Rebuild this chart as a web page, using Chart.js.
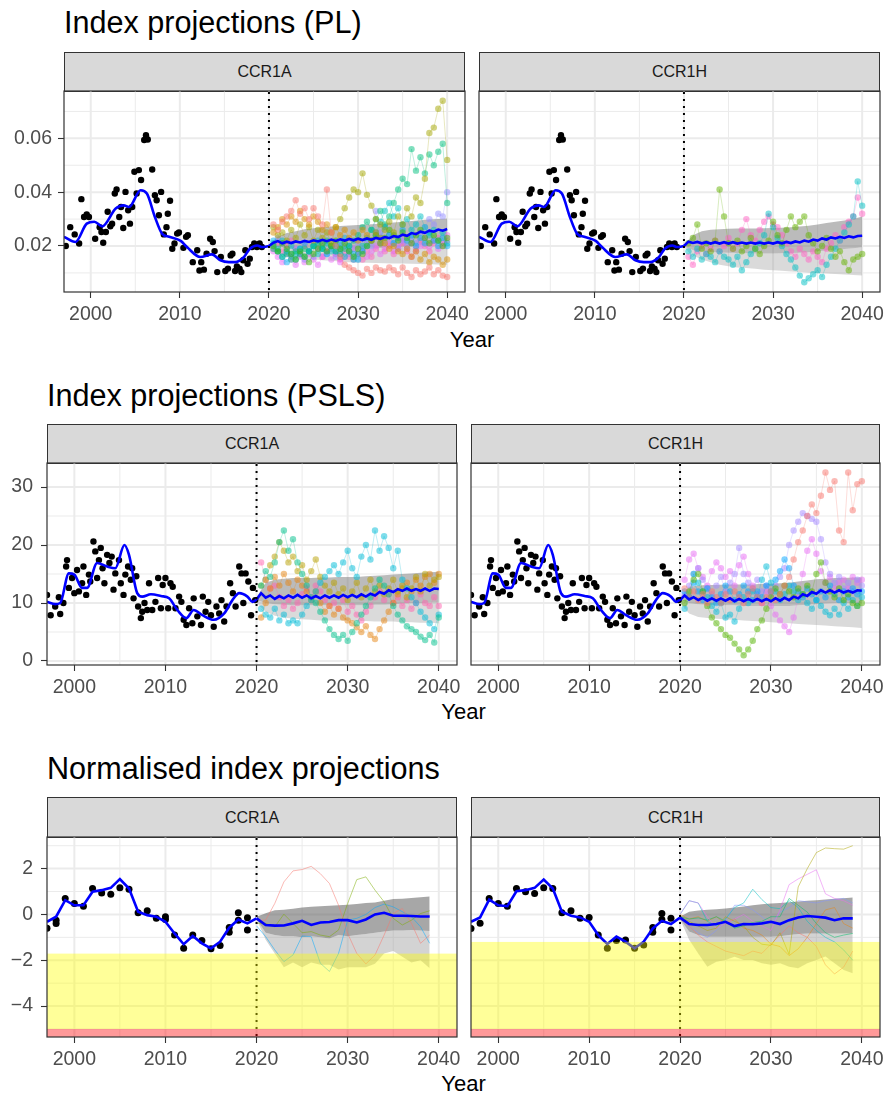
<!DOCTYPE html>
<html><head><meta charset="utf-8">
<script src="https://cdn.jsdelivr.net/npm/chart.js@4.4.1/dist/chart.umd.min.js"></script>
<style>
html,body{margin:0;padding:0;background:#fff;}
body{width:888px;height:1100px;position:relative;overflow:hidden;font-family:"Liberation Sans",Arial,Helvetica,sans-serif;}
.t{position:absolute;white-space:nowrap;color:#000;}
.strip{position:absolute;box-sizing:border-box;border:1px solid #333;background:#D9D9D9;display:flex;align-items:center;justify-content:center;font-size:16px;color:#1A1A1A;}
canvas{position:absolute;}
</style></head><body>
<script>
// ---------- shared axes ----------
const xTicks = [2000, 2010, 2020, 2030, 2040];
const xMinor = [2005, 2015, 2025, 2035];
const projStart = 2020;
const plYTicks = [0.02, 0.04, 0.06];
const plYMinor = [0.01, 0.03, 0.05, 0.07];
const pslsYTicks = [0, 10, 20, 30];
const pslsYMinor = [5, 15, 25];
const normYTicks = [-4, -2, 0, 2];
const normYMinor = [-5, -3, -1, 1, 3];
const normLimitA = -1.71;
const normLimitH = -1.2;
const normLimitLow = -5;

// ---------- projection time grids ----------
const projHalfYears = [2020.5,2021,2021.5,2022,2022.5,2023,2023.5,2024,2024.5,2025,2025.5,2026,2026.5,2027,2027.5,2028,2028.5,2029,2029.5,2030,2030.5,2031,2031.5,2032,2032.5,2033,2033.5,2034,2034.5,2035,2035.5,2036,2036.5,2037,2037.5,2038,2038.5,2039,2039.5,2040];
const medYears = [2020,2020.5,2021,2021.5,2022,2022.5,2023,2023.5,2024,2024.5,2025,2025.5,2026,2026.5,2027,2027.5,2028,2028.5,2029,2029.5,2030,2030.5,2031,2031.5,2032,2032.5,2033,2033.5,2034,2034.5,2035,2035.5,2036,2036.5,2037,2037.5,2038,2038.5,2039,2039.5,2040];
const ribbonYears = [2020,2021,2022,2023,2024,2025,2026,2027,2028,2029,2030,2031,2032,2033,2034,2035,2036,2037,2038,2039,2040];
const normYears = [2020,2021,2022,2023,2024,2025,2026,2027,2028,2029,2030,2031,2032,2033,2034,2035,2036,2037,2038,2039];
const normHistYears = [1997,1998,1999,2000,2001,2002,2003,2004,2005,2006,2007,2008,2009,2010,2011,2012,2013,2014,2015,2016,2017,2018,2019,2020];

// ---------- PL observed & fit ----------
const plObsYear = [1997.2,1997.7,1998.2,1998.7,1998.95,1999.25,1999.55,1999.8,2000.5,2001.0,2001.2,2001.4,2001.7,2001.9,2002.2,2002.4,2002.7,2002.9,2003.2,2003.4,2003.65,2003.9,2004.2,2004.4,2004.65,2004.9,2005.15,2005.4,2005.65,2006.0,2006.2,2006.4,2006.9,2007.2,2007.4,2007.65,2007.9,2008.2,2008.5,2008.65,2008.9,2009.15,2009.4,2009.7,2009.9,2010.4,2010.7,2010.9,2011.45,2011.95,2012.2,2012.4,2012.7,2013.0,2013.4,2013.7,2013.9,2014.2,2014.6,2015.1,2015.4,2015.7,2015.9,2016.2,2016.4,2016.7,2016.9,2017.1,2017.35,2017.6,2017.85,2018.1,2018.35,2018.65,2018.95,2019.2];
const plObsVal = [0.020,0.027,0.0243,0.0209,0.0374,0.0308,0.0317,0.0308,0.0227,0.027,0.0252,0.0212,0.0252,0.0327,0.0273,0.0283,0.0395,0.041,0.0308,0.0345,0.0267,0.0401,0.0333,0.0283,0.0345,0.0476,0.0395,0.0482,0.0445,0.0594,0.0612,0.0596,0.0484,0.0389,0.037,0.0314,0.0401,0.0243,0.027,0.032,0.0368,0.019,0.0209,0.0246,0.025,0.0193,0.0234,0.024,0.014,0.0184,0.0109,0.014,0.0112,0.0171,0.0227,0.0215,0.0181,0.0103,0.0159,0.0107,0.0116,0.0165,0.0171,0.0107,0.0124,0.0116,0.0103,0.0147,0.0184,0.0134,0.0153,0.0196,0.0209,0.0196,0.0209,0.0196];
const plFitYear = [1997.0,1998.3,1999.55,2000.4,2001.3,2002.8,2003.7,2004.3,2005.6,2006.3,2007.2,2008.0,2008.8,2010.1,2010.8,2012.3,2013.6,2014.55,2015.5,2016.2,2017.2,2017.85,2018.7,2019.2,2020.0];
const plFitVal = [0.0234,0.0215,0.0283,0.029,0.0273,0.0339,0.0351,0.0345,0.0407,0.0395,0.0308,0.0246,0.0234,0.0219,0.0196,0.0159,0.0169,0.0147,0.014,0.014,0.0159,0.019,0.0202,0.0196,0.02];

// ---------- PL CCR1A projections ----------
const plAMed = [0.0200,0.0212,0.0218,0.0210,0.0216,0.0211,0.0217,0.0213,0.0219,0.0215,0.0221,0.0217,0.0223,0.0218,0.0224,0.0219,0.0225,0.0220,0.0226,0.0221,0.0227,0.0222,0.0228,0.0223,0.0230,0.0226,0.0233,0.0229,0.0237,0.0233,0.0242,0.0238,0.0248,0.0244,0.0253,0.0249,0.0257,0.0253,0.0261,0.0257,0.0263];
const plALo = [0.0195,0.0175,0.0162,0.0155,0.0152,0.0150,0.0147,0.0145,0.0142,0.0140,0.0138,0.0138,0.0137,0.0136,0.0135,0.0135,0.0134,0.0133,0.0132,0.0131,0.0130];
const plAInLo = [0.0198,0.0195,0.0192,0.0190,0.0190,0.0190,0.0190,0.0190,0.0190,0.0190,0.0190,0.0191,0.0192,0.0193,0.0195,0.0197,0.0200,0.0203,0.0206,0.0208,0.0210];
const plAHi = [0.0205,0.0235,0.0248,0.0255,0.0262,0.0266,0.0270,0.0272,0.0274,0.0276,0.0278,0.0280,0.0282,0.0284,0.0287,0.0290,0.0293,0.0296,0.0298,0.0300,0.0302];
const plASalmon = [0.028,0.026,0.029,0.031,0.033,0.037,0.032,0.034,0.03,0.034,0.031,0.028,0.041,0.025,0.02,0.016,0.013,0.012,0.011,0.010,0.009,0.0115,0.010,0.012,0.011,0.0105,0.012,0.011,0.0095,0.012,0.010,0.0085,0.011,0.0095,0.0105,0.012,0.0095,0.011,0.009,0.0085];
const plAGold = [0.025,0.027,0.03,0.028,0.031,0.029,0.033,0.03,0.028,0.031,0.029,0.026,0.028,0.025,0.027,0.024,0.026,0.023,0.025,0.022,0.026,0.024,0.022,0.025,0.023,0.021,0.019,0.02,0.018,0.017,0.019,0.016,0.018,0.015,0.017,0.014,0.016,0.015,0.013,0.015];
const plAOlive = [0.027,0.024,0.025,0.022,0.026,0.023,0.028,0.024,0.027,0.022,0.026,0.023,0.025,0.021,0.027,0.030,0.034,0.038,0.041,0.040,0.047,0.039,0.035,0.030,0.028,0.026,0.029,0.025,0.031,0.028,0.034,0.031,0.038,0.036,0.045,0.062,0.064,0.071,0.074,0.052];
const plAGreen = [0.02,0.018,0.021,0.019,0.017,0.015,0.018,0.016,0.014,0.017,0.019,0.021,0.018,0.02,0.022,0.019,0.021,0.018,0.016,0.019,0.017,0.02,0.022,0.024,0.021,0.023,0.026,0.024,0.022,0.025,0.023,0.021,0.024,0.026,0.023,0.021,0.024,0.022,0.02,0.023];
const plAMint = [0.019,0.018,0.016,0.017,0.015,0.018,0.017,0.019,0.018,0.02,0.021,0.019,0.022,0.02,0.018,0.017,0.019,0.02,0.022,0.024,0.027,0.029,0.026,0.03,0.033,0.028,0.031,0.036,0.041,0.045,0.043,0.056,0.048,0.053,0.047,0.054,0.050,0.055,0.058,0.036];
const plATeal = [0.021,0.019,0.022,0.018,0.02,0.017,0.019,0.016,0.018,0.02,0.017,0.019,0.021,0.018,0.02,0.019,0.016,0.018,0.015,0.017,0.02,0.023,0.026,0.024,0.029,0.033,0.036,0.031,0.034,0.028,0.03,0.026,0.028,0.031,0.027,0.024,0.026,0.022,0.025,0.021];
const plACyan = [0.022,0.018,0.016,0.014,0.017,0.015,0.019,0.021,0.018,0.02,0.022,0.019,0.017,0.02,0.018,0.021,0.023,0.02,0.017,0.015,0.018,0.02,0.022,0.025,0.023,0.027,0.024,0.021,0.023,0.026,0.022,0.024,0.02,0.023,0.021,0.025,0.022,0.02,0.023,0.02];
const plAPurple = [0.02,0.023,0.021,0.018,0.016,0.019,0.017,0.015,0.018,0.016,0.019,0.021,0.017,0.019,0.016,0.018,0.02,0.017,0.019,0.021,0.018,0.022,0.02,0.033,0.025,0.022,0.024,0.021,0.019,0.022,0.02,0.023,0.021,0.025,0.027,0.03,0.028,0.032,0.031,0.04];
const plAMagenta = [0.018,0.016,0.014,0.017,0.015,0.013,0.016,0.014,0.017,0.015,0.013,0.016,0.018,0.015,0.017,0.014,0.016,0.018,0.015,0.017,0.019,0.016,0.018,0.02,0.017,0.019,0.021,0.018,0.02,0.022,0.019,0.021,0.018,0.02,0.023,0.02,0.022,0.019,0.021,0.024];
const plAPink = [0.019,0.021,0.018,0.02,0.022,0.019,0.017,0.02,0.018,0.021,0.019,0.016,0.018,0.02,0.017,0.015,0.018,0.016,0.019,0.017,0.015,0.018,0.016,0.019,0.021,0.018,0.02,0.017,0.019,0.021,0.018,0.016,0.019,0.022,0.02,0.018,0.021,0.023,0.02,0.022];

// ---------- PL CCR1H projections ----------
const plHMed = [0.0200,0.0216,0.0211,0.0215,0.0210,0.0214,0.0209,0.0214,0.0209,0.0214,0.0209,0.0214,0.0209,0.0213,0.0209,0.0213,0.0209,0.0213,0.0209,0.0213,0.0209,0.0214,0.0210,0.0215,0.0211,0.0217,0.0213,0.0220,0.0216,0.0224,0.0220,0.0228,0.0224,0.0232,0.0228,0.0234,0.0230,0.0236,0.0232,0.0237,0.0238];
const plHLo = [0.0195,0.0165,0.015,0.014,0.013,0.0125,0.012,0.0118,0.0115,0.0112,0.011,0.0108,0.0105,0.0103,0.0101,0.01,0.0098,0.0096,0.0094,0.0092,0.009];
const plHInLo = [0.0198,0.0185,0.018,0.0178,0.0176,0.0175,0.0174,0.0173,0.0172,0.0172,0.0172,0.0173,0.0174,0.0175,0.0177,0.018,0.0183,0.0186,0.0189,0.0192,0.0195];
const plHHi = [0.0205,0.024,0.0255,0.026,0.0262,0.0264,0.0265,0.0265,0.0265,0.0266,0.0267,0.0268,0.027,0.0272,0.0275,0.028,0.0285,0.029,0.0295,0.03,0.031];
const plHGreen = [0.021,0.023,0.028,0.019,0.021,0.018,0.022,0.041,0.031,0.021,0.019,0.022,0.018,0.02,0.023,0.019,0.017,0.02,0.022,0.029,0.024,0.021,0.026,0.031,0.027,0.029,0.031,0.024,0.021,0.018,0.02,0.023,0.019,0.016,0.018,0.014,0.011,0.015,0.016,0.017];
const plHCyan = [0.018,0.016,0.019,0.015,0.017,0.016,0.014,0.018,0.016,0.015,0.013,0.016,0.011,0.014,0.017,0.019,0.021,0.024,0.032,0.027,0.023,0.02,0.017,0.015,0.012,0.009,0.0065,0.008,0.0095,0.011,0.0085,0.013,0.016,0.019,0.022,0.025,0.028,0.031,0.044,0.035];
const plHPink = [0.016,0.013,0.018,0.02,0.017,0.019,0.022,0.018,0.02,0.023,0.019,0.021,0.026,0.03,0.024,0.022,0.026,0.029,0.031,0.028,0.027,0.024,0.021,0.018,0.016,0.019,0.017,0.015,0.018,0.016,0.014,0.019,0.021,0.024,0.022,0.027,0.029,0.031,0.038,0.032];

// ---------- PSLS observed & fit ----------
const pslsObsYear = [1997.0,1997.4,1997.9,1998.3,1998.45,1998.8,1999.1,1999.2,1999.4,1999.75,2000.0,2000.3,2000.5,2000.85,2001.0,2001.3,2001.6,2001.75,2002.1,2002.3,2002.5,2002.7,2002.9,2003.1,2003.3,2003.6,2003.85,2004.1,2004.3,2004.5,2004.9,2005.1,2005.4,2005.6,2005.9,2006.2,2006.35,2006.5,2006.8,2007.0,2007.3,2007.45,2007.7,2008.0,2008.2,2008.55,2008.9,2009.2,2009.5,2009.7,2010.0,2010.3,2010.55,2010.8,2011.1,2011.5,2011.75,2012.0,2012.3,2012.6,2012.95,2013.1,2013.5,2013.9,2014.1,2014.4,2014.7,2015.0,2015.3,2015.6,2015.9,2016.15,2016.45,2016.7,2017.1,2017.4,2017.7,2018.1,2018.35,2018.55,2018.8,2019.1,2019.4,2019.6,2019.85];
const pslsObsVal = [11.4,7.9,9.4,11.0,8.1,10.0,16.3,17.4,12.6,14.3,11.7,15.7,12.0,13.4,16.3,11.4,14.9,13.7,20.6,18.9,14.3,17.4,19.5,16.0,13.4,18.3,16.9,18.0,12.3,15.1,17.4,13.4,11.4,14.9,16.3,14.0,16.0,10.8,14.6,9.4,7.4,8.5,10.0,8.8,13.4,8.8,10.2,14.3,9.1,13.1,14.3,9.1,13.4,12.8,9.1,11.1,10.2,7.1,6.2,9.1,6.5,10.8,7.7,6.2,11.1,8.5,10.2,7.9,5.9,9.4,8.2,10.5,6.8,9.4,13.4,11.7,9.4,16.3,15.1,10.0,15.1,13.7,7.9,12.6,10.5];
const pslsFitYear = [1997.0,1997.9,1998.45,1999.4,2000.0,2000.85,2001.4,2002.5,2003.6,2004.5,2005.5,2006.0,2006.9,2007.45,2008.4,2009.5,2010.4,2011.3,2012.3,2013.1,2014.05,2015.3,2016.45,2017.35,2018.1,2019.0,2019.55,2020.0];
const pslsFitVal = [10.2,9.8,10.0,15.1,14.9,12.6,12.6,16.9,16.3,16.0,20.0,18.3,11.7,11.1,11.5,11.2,10.8,8.8,7.4,8.8,7.9,7.1,8.2,10.5,11.7,11.1,10.2,10.6];

// ---------- PSLS CCR1A projections ----------
const pslsAMed = [10.6,11.7,10.9,11.3,10.7,11.2,10.8,11.3,10.9,11.4,10.9,11.3,10.8,11.2,10.8,11.3,10.9,11.3,10.9,11.4,11.0,11.4,11.0,11.5,11.1,11.6,11.3,11.9,11.6,12.2,11.9,12.4,12.1,12.5,12.1,12.4,12.1,12.5,12.1,12.5,12.4];
const pslsALo = [10.0,8.5,7.8,7.5,7.3,7.2,7.1,7.0,7.0,7.0,7.0,6.9,6.9,6.8,6.8,6.8,6.7,6.7,6.6,6.6,6.5];
const pslsAInLo = [10.5,10.0,9.8,9.7,9.6,9.6,9.6,9.6,9.6,9.6,9.6,9.6,9.6,9.7,9.7,9.8,9.9,10.0,10.0,10.1,10.1];
const pslsAHi = [11.0,13.5,14.0,14.2,14.3,14.3,14.3,14.4,14.4,14.5,14.5,14.5,14.6,14.7,14.8,14.9,15.0,15.1,15.2,15.3,15.4];
const pslsAMint = [13,15.5,14.5,17,20.5,22.5,19,21,17,15,13,11,10,8.5,7,5.5,4.5,3.8,4.5,3.5,5,6.5,8,9.5,11,12.5,14,13,11.5,9.5,8,7,6,5.5,5,4.2,3.6,4.5,3.2,7.5];
const pslsACyan = [9,8,7.5,9,7,8,6.5,7,6.5,8,9.5,10.5,12,13.5,14.5,15.5,16.5,15,17,19,16,14.5,18,20,17.5,22.5,19,21.5,19.5,16,19,14,12.5,11,10,8.5,7.5,6.5,5.5,8];
const pslsAOlive = [13,14,16.5,18,20.5,19,17,18,15.5,16.5,14,15.5,17.5,14.5,13,12,13.5,11.5,12.5,10.5,12,13.5,11,12.5,14,12,13,11.5,12.5,14,12,13,11,12.5,14.5,12,15,13,14,14.5];
const pslsAOrange = [7.5,10,12.5,14.5,13,15,13.5,12,14,13,12,10.5,12,10,8.5,9.5,8,9,7.5,7,6.5,5.8,5,6,4.5,3.8,5.5,7,8.5,10,11.5,12.5,13.5,12,14,13,14.5,15,13.5,15];
const pslsAPink = [17,14,12.5,13,11,9.5,10.5,9,10,11.5,12.5,11,13,12,10.5,9.5,10,9,10.5,8.5,9.5,8,7,8.5,9.5,11,12,10.5,11.5,10,11,9.5,10.5,9,10,11.5,10,9.5,11,9.5];

// ---------- PSLS CCR1H projections ----------
const pslsHMed = [10.5,11.3,10.6,11.0,10.5,10.9,10.4,10.8,10.4,10.8,10.4,10.8,10.3,10.7,10.3,10.7,10.3,10.7,10.3,10.7,10.3,10.8,10.4,10.9,10.5,11.1,10.8,11.5,11.2,11.9,11.6,12.2,11.8,12.2,11.8,12.2,11.8,12.1,11.8,12.2,12.1];
const pslsHLo = [10.0,8.2,7.6,7.4,7.3,7.2,7.1,7.0,6.9,6.8,6.7,6.6,6.5,6.4,6.3,6.2,6.1,6.0,5.9,5.8,5.7];
const pslsHInLo = [10.5,10.0,9.8,9.7,9.6,9.6,9.6,9.5,9.5,9.5,9.5,9.5,9.5,9.6,9.7,9.8,9.9,10.0,10.0,10.0,10.0];
const pslsHHi = [11.0,12.8,13.0,13.1,13.1,13.2,13.2,13.2,13.2,13.3,13.3,13.4,13.5,13.7,13.9,14.1,14.2,14.3,14.3,14.4,14.4];
const pslsHGreen = [10,12,14,15,12,9.5,7.5,6.5,5.5,4.5,4,3,2,1.0,2,3.5,5.5,7,9,11,12.5,11.5,13,12,11,12.5,11.5,13,12,15,17,13.5,12,11,12.5,10.5,11.5,10,9.5,10];
const pslsHSalmon = [12.5,11,12,10.5,11.5,10,12,11,10,11.5,10.5,12,11,10,11.5,12.5,11,10,11,12,10.5,11.5,13,14.5,17.5,20.5,22.5,25,27,25.5,28.5,32.5,29.5,31,22.5,20.5,32.5,26,30.5,31];
const pslsHPurple = [11.5,13,15,16,14,12.5,11.5,13,14.5,12,13.5,15,19.5,15,13.5,12.5,14,12,13,11.5,13,14.5,16,20,22.5,24,25.5,25,24.5,24,21,17,15,13.5,14.5,12.5,13.5,12,14,13];
const pslsHMagenta = [14,17.5,18.5,16,14.5,13,15.5,17,16,14.5,15.5,13,16.5,18,15,13,11.5,10,12,9.5,8,7,6,5,7.5,11,15,19,21,18.5,15.5,13.5,14.5,12.5,13.5,14,12.5,14.5,13.5,14];
const pslsHCyan = [9,11,15,13.5,12,11,9.5,8.5,10,7.5,8,6.8,9,11,10,12,11,14,16.3,13.5,12,10.5,11.5,13,12,10.5,11.5,10,9,10.5,9.5,8.5,7.9,9,8,10,9,10.5,9.5,11];
const pslsHBlue = [12,11,13.5,12,10.5,12.5,11,10,11.5,13,12,10.5,11.5,13,12,10.5,12,11,13,12,14,15.5,17.5,16,13,12,11,12.5,11.5,10.5,12,11,13,11.5,10.5,12,11,12.5,11.5,12];

// ---------- Normalised CCR1A ----------
const normAObsYear = [1997,1998,1998,1999,2000,2001,2002,2003,2004,2005,2006,2007,2008,2009,2010,2010,2011,2012,2013,2014,2015,2016,2017,2017,2018,2018,2019,2019];
const normAObsVal = [-0.6,-0.4,-0.25,0.7,0.48,0.36,1.13,0.94,0.88,1.16,1.1,0.07,0.16,-0.17,-0.1,-0.22,-0.9,-1.48,-0.9,-1.14,-1.5,-1.36,-0.57,-0.78,0.07,-0.25,-0.14,-0.68];
const normAFit = [-0.32,-0.1,0.62,0.4,0.4,0.99,1.06,1.16,1.54,1.13,0.12,-0.03,-0.1,-0.32,-0.83,-1.3,-0.94,-1.26,-1.48,-1.19,-0.58,-0.22,-0.39,-0.17];
const normAMed = [-0.17,-0.46,-0.49,-0.48,-0.39,-0.28,-0.46,-0.35,-0.33,-0.25,-0.25,-0.35,-0.22,0.0,0.07,-0.06,-0.06,-0.07,-0.09,-0.09];
const normALo = [-0.2,-1.1,-1.7,-2.3,-2.1,-2.3,-2.1,-2.2,-2.2,-2.4,-2.3,-2.3,-2.3,-2.15,-1.7,-1.6,-1.85,-2.1,-2.0,-2.35];
const normAInLo = [-0.2,-0.8,-0.9,-0.95,-0.95,-1.0,-0.95,-1.0,-1.05,-0.9,-0.95,-0.9,-0.85,-0.8,-0.75,-0.7,-0.7,-0.68,-0.7,-0.72];
const normAHi = [-0.1,0.05,0.18,0.2,0.25,0.3,0.33,0.36,0.38,0.4,0.42,0.45,0.5,0.52,0.6,0.67,0.68,0.72,0.75,0.78];
const normASalmon = [-0.25,-0.25,0.48,1.42,1.9,1.96,2.1,1.78,1.35,0.4,-0.83,-1.7,-2.16,-1.77,-0.9,0.04,0.26,-0.39,-1.26,-0.9];
const normAGreen = [-0.39,-0.39,-0.54,0.01,-0.39,-0.8,-0.75,-0.9,-0.97,-0.68,0.48,1.52,1.64,1.06,0.55,-0.17,-0.46,-0.25,0.04,0.16];
const normABlue = [-0.5,-0.97,-1.55,-2.06,-1.77,-0.94,-0.97,-2.13,-2.49,-1.7,-0.25,-0.17,0.0,0.3,0.45,0.33,0.12,-0.1,-0.54,-1.26];

// ---------- Normalised CCR1H ----------
const normHObsYear = [1997,1998,1999,2000,2001,2002,2003,2004,2005,2006,2007,2008,2009,2010,2011,2012,2013,2014,2015,2016,2017,2017,2018,2018,2019,2019];
const normHObsVal = [-0.61,-0.39,0.7,0.48,0.36,1.13,0.99,0.91,1.16,1.13,0.07,0.16,-0.17,-0.13,-0.9,-1.48,-1.14,-1.12,-1.48,-1.33,-0.57,-0.78,0.04,-0.22,-0.17,-0.68];
const normHFit = [-0.32,-0.13,0.65,0.4,0.36,1.01,1.06,1.16,1.52,1.13,0.12,-0.06,-0.13,-0.32,-0.9,-1.29,-0.97,-1.19,-1.48,-1.19,-0.61,-0.28,-0.42,-0.14];
const normHMed = [-0.14,-0.42,-0.46,-0.46,-0.42,-0.32,-0.51,-0.42,-0.43,-0.39,-0.32,-0.42,-0.25,-0.13,-0.07,-0.1,-0.14,-0.25,-0.17,-0.17];
const normHLo = [-0.2,-1.1,-1.7,-2.28,-2.06,-1.99,-1.85,-1.99,-1.99,-2.13,-2.2,-2.13,-2.28,-2.35,-2.13,-1.99,-1.84,-2.13,-2.42,-2.57];
const normHInLo = [-0.2,-0.75,-0.9,-0.97,-0.97,-0.97,-0.97,-0.97,-0.97,-0.97,-0.97,-0.95,-0.9,-0.85,-0.83,-0.83,-0.83,-0.83,-0.83,-0.83];
const normHHi = [-0.1,0.12,0.17,0.2,0.23,0.26,0.3,0.35,0.4,0.44,0.48,0.5,0.53,0.56,0.6,0.62,0.65,0.68,0.71,0.74];
const normHOlive = [-0.1,-0.3,-0.5,-0.7,-0.6,-0.1,-0.3,-0.5,-1.0,-1.3,-1.35,-0.8,-1.75,1.2,2.0,2.7,2.9,2.87,2.85,3.0];
const normHMagenta = [0.0,0.6,0.5,-0.1,-0.6,-0.4,-0.2,0.0,-0.3,-0.5,-0.7,0.2,1.3,1.55,1.75,1.95,0.9,0.7,0.6,0.4];
const normHCyan = [0.0,0.6,0.5,-0.3,-0.5,-0.2,0.3,0.5,1.1,0.65,0.3,0.25,0.6,0.3,-0.3,-0.7,-1.0,-1.2,-1.55,-2.0];
const normHTeal = [-0.1,-0.2,-0.15,-0.25,-0.1,-0.3,-0.6,-0.5,-0.35,-0.3,-0.1,-0.1,0.7,0.4,0.1,-0.4,-0.8,-1.0,-0.9,-0.83];
const normHOrange = [0.0,-0.2,-0.1,-0.3,-0.1,-0.4,-0.2,-0.6,-0.7,-0.9,-1.3,-1.4,-1.8,-1.5,-1.0,-0.4,0.2,0.3,-0.4,-0.6];
const normHSalmon = [-0.2,-0.5,-0.9,-1.2,-1.4,-1.6,-1.7,-1.8,-1.6,-1.7,-1.3,-0.9,-0.5,-0.8,-1.0,-1.4,-2.2,-2.6,-2.3,-1.6];
const normHPurple = [-0.2,-0.5,-0.8,-1.0,-0.7,-0.3,0.4,0.4,0.2,-0.1,-0.4,0.1,0.3,0.6,0.55,0.5,0.6,0.65,0.7,0.5];

// ---------- helpers ----------
const FONT = '"Liberation Sans", Arial, Helvetica, sans-serif';
Chart.defaults.font.family = FONT;

function rgba(hex, a) {
  const n = parseInt(hex.slice(1), 16);
  return 'rgba(' + ((n >> 16) & 255) + ',' + ((n >> 8) & 255) + ',' + (n & 255) + ',' + a + ')';
}
function pts(xs, ys) { return xs.map((x, i) => ({ x: x, y: ys[i] })); }

function addText(txt, left, top, size, extra) {
  const d = document.createElement('div');
  d.className = 't';
  d.textContent = txt;
  d.style.left = left + 'px';
  d.style.top = top + 'px';
  d.style.fontSize = size + 'px';
  d.style.lineHeight = size + 'px';
  if (extra) Object.assign(d.style, extra);
  document.body.appendChild(d);
}

function ribbonSets(xs, lo, inLo, hi, light, dark) {
  const clear = 'rgba(0,0,0,0)';
  return [
    { data: pts(xs, lo), borderColor: clear, borderWidth: 1, pointRadius: 0, fill: false, order: 100 },
    { data: pts(xs, inLo), borderColor: clear, borderWidth: 1, pointRadius: 0, fill: '-1', backgroundColor: light, order: 99 },
    { data: pts(xs, hi), borderColor: clear, borderWidth: 1, pointRadius: 0, fill: '-1', backgroundColor: dark, order: 98 }
  ];
}
function seriesSets(xs, list, ptAlpha, lineAlpha, radius) {
  return list.map(([col, ys]) => ({
    data: pts(xs, ys), borderColor: rgba(col, lineAlpha), borderWidth: 1,
    pointRadius: radius, pointBackgroundColor: rgba(col, ptAlpha), pointBorderWidth: 0,
    fill: false, tension: 0, order: 50
  }));
}
function obsSet(xs, ys, r) {
  return { data: pts(xs, ys), showLine: false, pointRadius: r, pointBackgroundColor: '#000', pointBorderWidth: 0, order: 20 };
}
function blueSet(xs, ys, smooth) {
  const d = { data: pts(xs, ys), borderColor: '#0000FF', borderWidth: 2.6, pointRadius: 0, fill: false, order: 10, tension: 0 };
  if (smooth) { d.tension = 0.4; d.cubicInterpolationMode = 'monotone'; }
  return d;
}

function decoPlugin(p) {
  return {
    id: 'deco',
    beforeDatasetsDraw(chart) {
      const { ctx, chartArea: a, scales } = chart;
      const x = scales.x, y = scales.y;
      ctx.save();
      ctx.strokeStyle = '#EBEBEB';
      const vl = (v, w) => { const px = x.getPixelForValue(v); ctx.lineWidth = w; ctx.beginPath(); ctx.moveTo(px, a.top); ctx.lineTo(px, a.bottom); ctx.stroke(); };
      const hl = (v, w) => { const py = y.getPixelForValue(v); ctx.lineWidth = w; ctx.beginPath(); ctx.moveTo(a.left, py); ctx.lineTo(a.right, py); ctx.stroke(); };
      xMinor.forEach(v => vl(v, 1));
      p.yMinor.forEach(v => hl(v, 1));
      xTicks.forEach(v => vl(v, 2));
      p.yTicks.forEach(v => hl(v, 2));
      ctx.restore();
    },
    afterDatasetsDraw(chart) {
      const { ctx, chartArea: a, scales } = chart;
      const x = scales.x, y = scales.y;
      ctx.save();
      const px = x.getPixelForValue(projStart);
      ctx.setLineDash([2, 5]);
      ctx.lineWidth = 2;
      ctx.strokeStyle = '#000';
      ctx.beginPath(); ctx.moveTo(px, a.top + 1); ctx.lineTo(px, a.bottom); ctx.stroke();
      ctx.setLineDash([]);
      if (p.bandTop !== undefined) {
        const yt = y.getPixelForValue(p.bandTop), y5 = y.getPixelForValue(normLimitLow);
        ctx.fillStyle = 'rgba(255,255,0,0.4)';
        ctx.fillRect(a.left, yt, a.right - a.left, y5 - yt);
        ctx.fillStyle = 'rgba(255,0,0,0.4)';
        ctx.fillRect(a.left, y5, a.right - a.left, a.bottom - y5);
      }
      ctx.strokeStyle = '#333333';
      ctx.lineWidth = 1.2;
      ctx.strokeRect(a.left, a.top, a.right - a.left, a.bottom - a.top);
      ctx.restore();
    }
  };
}

function zeroPad(s) { s.paddingTop = 0; s.paddingBottom = 0; s.paddingLeft = 0; s.paddingRight = 0; }

function makePanel(p) {
  const strip = document.createElement('div');
  strip.className = 'strip';
  strip.textContent = p.label;
  strip.style.left = p.left + 'px';
  strip.style.top = p.stripTop + 'px';
  strip.style.width = (p.right - p.left) + 'px';
  strip.style.height = (p.top - p.stripTop + 1) + 'px';
  document.body.appendChild(strip);

  const padT = 2, padR = 12, xH = 40;
  const yW = p.yAxis ? p.left : 0;
  const canvasLeft = p.yAxis ? 0 : p.left - 2;
  const padL = p.yAxis ? 0 : 2;
  const cw = p.right + padR - canvasLeft;
  const ch = padT + (p.bottom - p.top) + xH;
  const cv = document.createElement('canvas');
  cv.width = cw; cv.height = ch;
  cv.style.left = canvasLeft + 'px';
  cv.style.top = (p.top - padT) + 'px';
  cv.style.width = cw + 'px';
  cv.style.height = ch + 'px';
  document.body.appendChild(cv);

  const tickFont = { family: FONT, size: 19.5 };
  new Chart(cv.getContext('2d'), {
    type: 'line',
    data: { datasets: p.datasets },
    options: {
      responsive: false, animation: false, devicePixelRatio: 1, events: [],
      layout: { autoPadding: false, padding: { top: padT, right: padR, left: padL, bottom: 0 } },
      plugins: { legend: { display: false }, tooltip: { enabled: false }, colors: { enabled: false } },
      scales: {
        x: {
          type: 'linear', min: 1997, max: 2042,
          afterBuildTicks: s => { s.ticks = xTicks.map(v => ({ value: v })); },
          afterFit: s => { s.height = xH; zeroPad(s); },
          ticks: { font: tickFont, color: '#4D4D4D', padding: 5, maxRotation: 0, autoSkip: false, callback: v => String(v) },
          grid: { display: true, drawOnChartArea: false, drawTicks: true, tickLength: 6, tickColor: '#333333', tickWidth: 1.1 },
          border: { display: false }
        },
        y: {
          type: 'linear', min: p.yMin, max: p.yMax, display: p.yAxis,
          afterBuildTicks: s => { s.ticks = p.yTicks.map(v => ({ value: v })); },
          afterFit: s => { s.width = yW; zeroPad(s); },
          ticks: { font: tickFont, color: '#4D4D4D', padding: p.yPad, autoSkip: false, callback: v => p.yFmt(v) },
          grid: { display: true, drawOnChartArea: false, drawTicks: true, tickLength: 6, tickColor: '#333333', tickWidth: 1.1 },
          border: { display: false }
        }
      }
    },
    plugins: [decoPlugin(p)]
  });
}

// ---------- text ----------
addText('Index projections (PL)', 64, 7.1, 30.6);
addText('Index projections (PSLS)', 47, 380.1, 30.6);
addText('Normalised index projections', 47, 753.1, 30.6);
addText('Year', 372, 329.25, 22, { width: '200px', textAlign: 'center' });
addText('Year', 363.5, 701.25, 22, { width: '200px', textAlign: 'center' });
addText('Year', 363.5, 1073, 22, { width: '200px', textAlign: 'center' });

const fmtPL = v => v.toFixed(2);
const fmtInt = v => String(v);
const fmtNorm = v => (v < 0 ? '\u2212' + Math.abs(v) : String(v));

const lightG = 'rgba(150,150,150,0.35)', darkG = 'rgba(120,120,120,0.5)';
const lightG3 = 'rgba(150,150,150,0.42)', darkG3 = 'rgba(95,95,95,0.55)';

// Row 1
makePanel({
  label: 'CCR1A', left: 64, right: 465, stripTop: 52, top: 91, bottom: 292, yAxis: true,
  yMin: 0.0029, yMax: 0.0776, yTicks: plYTicks, yMinor: plYMinor, yFmt: fmtPL, yPad: 6,
  datasets: [].concat(
    ribbonSets(ribbonYears, plALo, plAInLo, plAHi, lightG, darkG),
    seriesSets(projHalfYears, [['#F8766D', plASalmon], ['#D89000', plAGold], ['#A3A500', plAOlive], ['#39B600', plAGreen], ['#00BF7D', plAMint], ['#00BFC4', plATeal], ['#00B0F6', plACyan], ['#9590FF', plAPurple], ['#E76BF3', plAMagenta], ['#FF62BC', plAPink]], 0.5, 0.25, 3.2),
    [obsSet(plObsYear, plObsVal, 3.2), blueSet(plFitYear, plFitVal, true), blueSet(medYears, plAMed, false)]
  )
});
makePanel({
  label: 'CCR1H', left: 479, right: 880, stripTop: 52, top: 91, bottom: 292, yAxis: false,
  yMin: 0.0029, yMax: 0.0776, yTicks: plYTicks, yMinor: plYMinor, yFmt: fmtPL, yPad: 6,
  datasets: [].concat(
    ribbonSets(ribbonYears, plHLo, plHInLo, plHHi, lightG, darkG),
    seriesSets(projHalfYears, [['#64B200', plHGreen], ['#00BFC4', plHCyan], ['#FF61C3', plHPink]], 0.5, 0.25, 3.2),
    [obsSet(plObsYear, plObsVal, 3.2), blueSet(plFitYear, plFitVal, true), blueSet(medYears, plHMed, false)]
  )
});

// Row 2
makePanel({
  label: 'CCR1A', left: 47, right: 457, stripTop: 424, top: 463, bottom: 665, yAxis: true,
  yMin: -0.69, yMax: 34.14, yTicks: pslsYTicks, yMinor: pslsYMinor, yFmt: fmtInt, yPad: 8,
  datasets: [].concat(
    ribbonSets(ribbonYears, pslsALo, pslsAInLo, pslsAHi, lightG, darkG),
    seriesSets(projHalfYears, [['#00C08B', pslsAMint], ['#00BCD8', pslsACyan], ['#B79F00', pslsAOlive], ['#E68613', pslsAOrange], ['#FF64B0', pslsAPink]], 0.5, 0.25, 3.2),
    [obsSet(pslsObsYear, pslsObsVal, 3.2), blueSet(pslsFitYear, pslsFitVal, true), blueSet(medYears, pslsAMed, false)]
  )
});
makePanel({
  label: 'CCR1H', left: 471, right: 880, stripTop: 424, top: 463, bottom: 665, yAxis: false,
  yMin: -0.69, yMax: 34.14, yTicks: pslsYTicks, yMinor: pslsYMinor, yFmt: fmtInt, yPad: 8,
  datasets: [].concat(
    ribbonSets(ribbonYears, pslsHLo, pslsHInLo, pslsHHi, lightG, darkG),
    seriesSets(projHalfYears, [['#F8766D', pslsHSalmon], ['#53B400', pslsHGreen], ['#00BCD8', pslsHCyan], ['#00A5FF', pslsHBlue], ['#A58AFF', pslsHPurple], ['#E76BF3', pslsHMagenta]], 0.5, 0.25, 3.2),
    [obsSet(pslsObsYear, pslsObsVal, 3.2), blueSet(pslsFitYear, pslsFitVal, true), blueSet(medYears, pslsHMed, false)]
  )
});

// Row 3
makePanel({
  label: 'CCR1A', left: 47, right: 457, stripTop: 797, top: 837, bottom: 1037, yAxis: true,
  yMin: -5.35, yMax: 3.38, yTicks: normYTicks, yMinor: normYMinor, yFmt: fmtNorm, yPad: 8, bandTop: normLimitA,
  datasets: [].concat(
    ribbonSets(normYears, normALo, normAInLo, normAHi, lightG3, darkG3),
    seriesSets(normYears, [['#F8766D', normASalmon], ['#7CAE00', normAGreen], ['#00A9FF', normABlue]], 0.5, 0.5, 0),
    [obsSet(normAObsYear, normAObsVal, 3.5), blueSet(normHistYears, normAFit, false), blueSet(normYears, normAMed, false)]
  )
});
makePanel({
  label: 'CCR1H', left: 471, right: 880, stripTop: 797, top: 837, bottom: 1037, yAxis: false,
  yMin: -5.35, yMax: 3.38, yTicks: normYTicks, yMinor: normYMinor, yFmt: fmtNorm, yPad: 8, bandTop: normLimitH,
  datasets: [].concat(
    ribbonSets(normYears, normHLo, normHInLo, normHHi, lightG3, darkG3),
    seriesSets(normYears, [['#ABA300', normHOlive], ['#E76BF3', normHMagenta], ['#00BFC4', normHCyan], ['#00BE67', normHTeal], ['#E68613', normHOrange], ['#F8766D', normHSalmon], ['#8494FF', normHPurple]], 0.5, 0.5, 0),
    [obsSet(normHObsYear, normHObsVal, 3.5), blueSet(normHistYears, normHFit, false), blueSet(normYears, normHMed, false)]
  )
});
</script>
</body></html>
